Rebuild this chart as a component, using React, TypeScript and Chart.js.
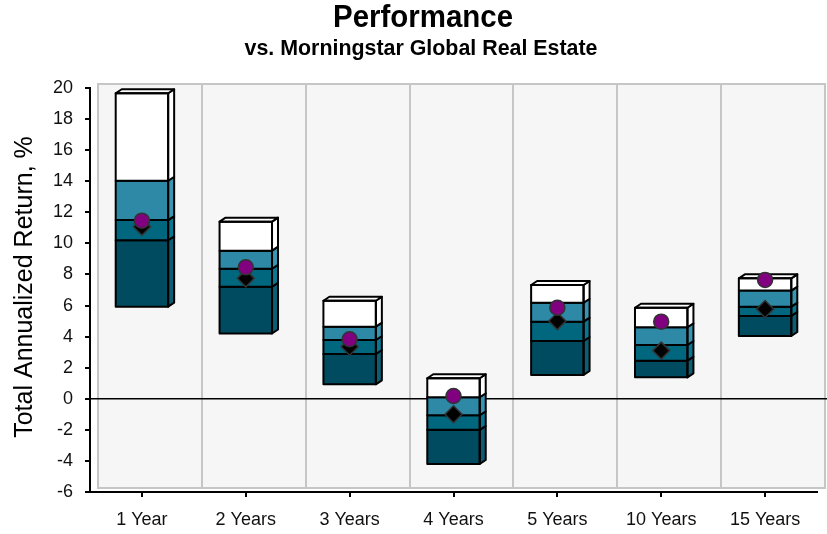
import React, { useEffect, useRef } from 'react';
import { Chart, registerables } from 'chart.js';

Chart.register(...registerables);

const categories = ['1 Year', '2 Years', '3 Years', '4 Years', '5 Years', '10 Years', '15 Years'];
// Quartile band edges (bottom of bar up to top of bar)
const lowVals = [5.93, 4.2, 0.93, -4.2, 1.53, 1.38, 4.04];
const q1Vals = [10.2, 7.21, 2.88, -2.0, 3.72, 2.45, 5.33];
const medVals = [11.5, 8.37, 3.78, -1.06, 4.96, 3.46, 5.93];
const q3Vals = [14.03, 9.53, 4.64, 0.1, 6.18, 4.6, 6.96];
const highVals = [19.66, 11.4, 6.31, 1.32, 7.32, 5.86, 7.75];
// Fund (purple circle) and category average (black diamond)
const fundVals = [11.46, 8.46, 3.83, 0.18, 5.86, 4.96, 7.65];
const categoryAvgVals = [11.07, 7.75, 3.35, -1.0, 5.0, 3.1, 5.78];
const yTickMin = -6;
const yTickMax = 20;
const yTickStep = 2;

const titleText = 'Performance';
const subtitleText = 'vs. Morningstar Global Real Estate';
const yTitleText = 'Total Annualized Return, %';

const FRONT_COLORS = ['#004B5F', '#00677F', '#2D89A6', '#FFFFFF'];
const SIDE_COLORS = ['#0D5D73', '#0A7692', '#3996B3', '#FFFFFF'];
const DX = 6;
const DY = -4;
const WALL_DX = 8;
const WALL_DY = -4;

function fitText(ctx: CanvasRenderingContext2D, text: string, cx: number, cy: number, font: string, targetW: number) {
  ctx.save();
  ctx.font = font;
  const w = ctx.measureText(text).width;
  const s = targetW / w;
  ctx.translate(cx, cy);
  ctx.scale(s, 1);
  ctx.textAlign = 'center';
  ctx.textBaseline = 'middle';
  ctx.fillStyle = '#000';
  ctx.fillText(text, 0, 0);
  ctx.restore();
}

const decorPlugin = {
  id: 'decor3d',
  beforeDraw(chart: any) {
    const { ctx, chartArea, width } = chart;
    const n = categories.length;
    const catW = (chartArea.right - chartArea.left) / n;
    ctx.save();
    const l = chartArea.left + WALL_DX;
    const t = chartArea.top + WALL_DY;
    const r = Math.min(chartArea.right + WALL_DX, width + 2);
    const b = chartArea.bottom + WALL_DY;
    ctx.fillStyle = '#F6F6F6';
    ctx.fillRect(l, t, r - l, b - t);
    ctx.strokeStyle = '#C6C6C6';
    ctx.lineWidth = 2;
    ctx.strokeRect(l, t, r - l, b - t);
    for (let k = 1; k < n; k++) {
      const gx = Math.round(chartArea.left + k * catW + WALL_DX);
      ctx.beginPath();
      ctx.moveTo(gx, t);
      ctx.lineTo(gx, b);
      ctx.stroke();
    }
    ctx.restore();
  },
  beforeDatasetsDraw(chart: any) {
    const { ctx, chartArea, width } = chart;
    const y0 = chart.scales.y.getPixelForValue(0);
    ctx.save();
    ctx.strokeStyle = '#000';
    ctx.lineWidth = 1.5;
    ctx.beginPath();
    ctx.moveTo(chartArea.left, y0);
    ctx.lineTo(width, y0);
    ctx.stroke();
    ctx.restore();
  },
  afterDatasetDraw(chart: any, args: any) {
    const meta = args.meta;
    if (meta.type !== 'bar') return;
    const seg = chart.data.datasets[args.index].segIndex as number;
    const ctx: CanvasRenderingContext2D = chart.ctx;
    ctx.save();
    ctx.strokeStyle = '#000';
    ctx.lineWidth = 2;
    ctx.lineJoin = 'round';
    meta.data.forEach((el: any) => {
      const p = el.getProps(['x', 'y', 'base', 'width'], true);
      const left = p.x - p.width / 2;
      const right = p.x + p.width / 2;
      const top = Math.min(p.y, p.base);
      const bottom = Math.max(p.y, p.base);
      ctx.beginPath();
      ctx.moveTo(right, top);
      ctx.lineTo(right + DX, top + DY);
      ctx.lineTo(right + DX, bottom + DY);
      ctx.lineTo(right, bottom);
      ctx.closePath();
      ctx.fillStyle = SIDE_COLORS[seg];
      ctx.fill();
      ctx.stroke();
      if (seg === 3) {
        ctx.beginPath();
        ctx.moveTo(left, top);
        ctx.lineTo(left + DX, top + DY);
        ctx.lineTo(right + DX, top + DY);
        ctx.lineTo(right, top);
        ctx.closePath();
        ctx.fillStyle = '#FFFFFF';
        ctx.fill();
        ctx.stroke();
      }
      ctx.strokeRect(left, top, right - left, bottom - top);
    });
    ctx.restore();
  },
  afterDraw(chart: any) {
    const ctx: CanvasRenderingContext2D = chart.ctx;
    fitText(ctx, titleText, 423, 18, 'bold 31px "Liberation Sans"', 180);
    fitText(ctx, subtitleText, 421, 49, 'bold 22px "Liberation Sans"', 353);
    ctx.save();
    ctx.translate(25, 287);
    ctx.rotate(-Math.PI / 2);
    ctx.font = '25px "Liberation Sans"';
    ctx.textAlign = 'center';
    ctx.textBaseline = 'middle';
    ctx.fillStyle = '#000';
    ctx.fillText(yTitleText, 0, 0);
    ctx.restore();
  },
};

export default function App() {
  const canvasRef = useRef<HTMLCanvasElement>(null);

  useEffect(() => {
    if (!canvasRef.current) return;
    const bands = [
      [lowVals, q1Vals],
      [q1Vals, medVals],
      [medVals, q3Vals],
      [q3Vals, highVals],
    ];
    const barSets: any[] = bands.map(([a, b], i) => ({
      type: 'bar',
      label: `Band ${i + 1}`,
      data: categories.map((_, j) => [a[j], b[j]]),
      backgroundColor: FRONT_COLORS[i],
      borderWidth: 0,
      grouped: false,
      barPercentage: 0.505,
      categoryPercentage: 1,
      order: 20 - i,
      segIndex: i,
    }));
    const chart = new Chart(canvasRef.current, {
      type: 'bar',
      data: {
        labels: categories,
        datasets: [
          ...barSets,
          {
            type: 'line',
            label: 'Category Average',
            data: categoryAvgVals,
            showLine: false,
            pointStyle: 'rectRot',
            pointRadius: 8.5,
            backgroundColor: '#000',
            borderColor: '#333',
            borderWidth: 1.5,
            order: 2,
          },
          {
            type: 'line',
            label: 'Fund',
            data: fundVals,
            showLine: false,
            pointStyle: 'circle',
            pointRadius: 7.5,
            backgroundColor: '#800080',
            borderColor: '#333',
            borderWidth: 1.5,
            order: 1,
          },
        ] as any,
      },
      options: {
        animation: false,
        responsive: true,
        maintainAspectRatio: false,
        layout: { padding: { left: 0, top: 88, right: 3, bottom: 0 } },
        plugins: {
          legend: { display: false },
          tooltip: { enabled: false },
          title: { display: false },
        },
        scales: {
          x: {
            type: 'category',
            offset: true,
            grid: { display: true, offset: false, drawOnChartArea: false, drawTicks: true, tickLength: 5, color: '#000', lineWidth: 2 },
            border: { display: true, color: '#000', width: 2 },
            ticks: { color: '#111', font: { family: 'Liberation Sans', size: 18 }, padding: 12, maxRotation: 0 },
            afterFit: (s: any) => { s.height = 42; },
          },
          y: {
            min: yTickMin,
            max: yTickMax,
            ticks: { stepSize: yTickStep, color: '#111', font: { family: 'Liberation Sans', size: 18 }, padding: 12 },
            grid: { display: true, drawOnChartArea: false, drawTicks: true, tickLength: 5, color: '#000', lineWidth: 2 },
            border: { display: true, color: '#000', width: 2 },
            afterFit: (s: any) => { s.width = 90; },
          },
        },
      } as any,
      plugins: [decorPlugin],
    });
    return () => chart.destroy();
  }, []);

  return (
    <div style={{ position: 'fixed', left: 0, top: 0, width: 827, height: 534, background: '#fff' }}>
      <canvas ref={canvasRef} />
    </div>
  );
}
